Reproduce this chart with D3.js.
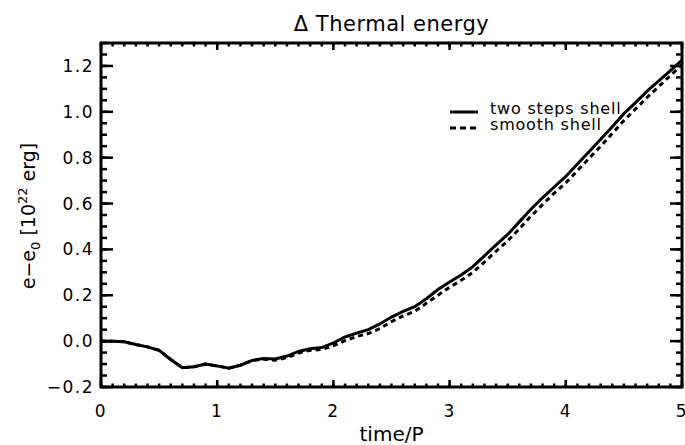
<!DOCTYPE html>
<html lang="en">
<head>
<meta charset="utf-8">
<script src="https://d3js.org/d3.v7.min.js"></script>
<style>
  html, body { margin: 0; padding: 0; background: #fff; }
  body { font-family: "DejaVu Sans", sans-serif; }
  .tick-label { font-size: 17px; letter-spacing: 1.5px; fill: #000; }
</style>
</head>
<body>
<script>
// values
var timeP = [0.0, 0.1, 0.2, 0.3, 0.4, 0.5, 0.6, 0.7, 0.8, 0.9,
             1.0, 1.1, 1.2, 1.3, 1.4, 1.5, 1.6, 1.7, 1.8, 1.9,
             2.0, 2.1, 2.2, 2.3, 2.4, 2.5, 2.6, 2.7, 2.8, 2.9,
             3.0, 3.1, 3.2, 3.3, 3.4, 3.5, 3.6, 3.7, 3.8, 3.9,
             4.0, 4.1, 4.2, 4.3, 4.4, 4.5, 4.6, 4.7, 4.8, 4.9, 5.0];
var twoSteps = [0.000, 0.000, -0.003, -0.015, -0.025, -0.040, -0.080, -0.116, -0.112, -0.100,
                -0.108, -0.118, -0.105, -0.084, -0.076, -0.078, -0.065, -0.045, -0.033, -0.028,
                -0.008, 0.018, 0.035, 0.050, 0.075, 0.105, 0.130, 0.150, 0.185, 0.225,
                0.258, 0.288, 0.325, 0.372, 0.420, 0.465, 0.520, 0.575, 0.625, 0.672,
                0.718, 0.772, 0.826, 0.880, 0.935, 0.992, 1.040, 1.090, 1.135, 1.180, 1.225];
var smooth = [0.000, 0.000, -0.003, -0.015, -0.025, -0.040, -0.080, -0.116, -0.112, -0.100,
              -0.108, -0.118, -0.105, -0.085, -0.079, -0.083, -0.072, -0.052, -0.040, -0.036,
              -0.020, 0.002, 0.020, 0.033, 0.055, 0.085, 0.110, 0.130, 0.165, 0.200,
              0.235, 0.265, 0.300, 0.345, 0.392, 0.437, 0.490, 0.545, 0.596, 0.645,
              0.690, 0.743, 0.797, 0.850, 0.905, 0.962, 1.012, 1.063, 1.110, 1.158, 1.205];
var xTicks = [0, 1, 2, 3, 4, 5];
var yTicks = [-0.2, 0.0, 0.2, 0.4, 0.6, 0.8, 1.0, 1.2];
var seriesNames = ["two steps shell", "smooth shell"];

var width = 685, height = 445;
var margin = {top: 43, right: 3, bottom: 58, left: 101};
var plotW = width - margin.left - margin.right,
    plotH = height - margin.top - margin.bottom;

var x = d3.scaleLinear().domain([0, 5]).range([0, plotW]);
var y = d3.scaleLinear().domain([-0.2, 1.3]).range([plotH, 0]);

var svg = d3.select("body").append("svg")
    .attr("width", width)
    .attr("height", height);

var g = svg.append("g")
    .attr("transform", "translate(" + margin.left + "," + margin.top + ")");

// minor / major ticks pointing inward on all four sides (IDL style)
var xMinor = d3.range(0, 5.0001, 0.1);
var yMinor = d3.range(-0.2, 1.3001, 0.05);

function tickLines(vals, len, isX, side) {
  g.append("g").selectAll("line")
    .data(vals)
    .enter().append("line")
    .attr("stroke", "#000")
    .attr("stroke-width", 2.5)
    .attr("x1", function(d) { return isX ? x(d) : (side == 0 ? 0 : plotW); })
    .attr("x2", function(d) { return isX ? x(d) : (side == 0 ? len : plotW - len); })
    .attr("y1", function(d) { return isX ? (side == 0 ? plotH : 0) : y(d); })
    .attr("y2", function(d) { return isX ? (side == 0 ? plotH - len : len) : y(d); });
}
tickLines(xMinor, 3.5, true, 0);
tickLines(xMinor, 3.5, true, 1);
tickLines(xTicks, 7, true, 0);
tickLines(xTicks, 7, true, 1);
tickLines(yMinor, 6, false, 0);
tickLines(yMinor, 6, false, 1);
tickLines(yTicks, 12, false, 0);
tickLines(yTicks, 12, false, 1);

// frame
g.append("rect")
    .attr("width", plotW)
    .attr("height", plotH)
    .attr("fill", "none")
    .attr("stroke", "#000")
    .attr("stroke-width", 3);

// tick labels
g.append("g").selectAll("text")
    .data(xTicks)
    .enter().append("text")
    .attr("class", "tick-label")
    .attr("x", function(d) { return x(d); })
    .attr("y", plotH + 30)
    .attr("text-anchor", "middle")
    .text(function(d) { return d; });

g.append("g").selectAll("text")
    .data(yTicks)
    .enter().append("text")
    .attr("class", "tick-label")
    .attr("x", -7)
    .attr("y", function(d) { return y(d) + 6; })
    .attr("text-anchor", "end")
    .text(function(d) { return d < 0 ? "\u2212" + Math.abs(d).toFixed(1) : d.toFixed(1); });

// curves
var line = d3.line()
    .x(function(d) { return x(d[0]); })
    .y(function(d) { return y(d[1]); });

g.append("path")
    .datum(timeP.map(function(t, i) { return [t, smooth[i]]; }))
    .attr("d", line)
    .attr("fill", "none")
    .attr("stroke", "#000")
    .attr("stroke-width", 3)
    .attr("stroke-dasharray", "5,4");

g.append("path")
    .datum(timeP.map(function(t, i) { return [t, twoSteps[i]]; }))
    .attr("d", line)
    .attr("fill", "none")
    .attr("stroke", "#000")
    .attr("stroke-width", 3);

// legend
var legend = svg.append("g").attr("transform", "translate(450,112)");
seriesNames.forEach(function(name, i) {
  legend.append("line")
    .attr("x1", 0).attr("x2", 28)
    .attr("y1", i * 16).attr("y2", i * 16)
    .attr("stroke", "#000")
    .attr("stroke-width", 3)
    .attr("stroke-dasharray", i == 0 ? null : "6,4");
  legend.append("text")
    .attr("x", 40)
    .attr("y", i * 16 + 2)
    .attr("font-size", "16px")
    .attr("letter-spacing", "0.8px")
    .text(name);
});

// titles
svg.append("text")
    .attr("x", margin.left + plotW / 2)
    .attr("y", 31)
    .attr("text-anchor", "middle")
    .attr("font-size", "21px")
    .attr("letter-spacing", "0.5px")
    .text("\u0394 Thermal energy");

svg.append("text")
    .attr("x", margin.left + plotW / 2)
    .attr("y", 441)
    .attr("text-anchor", "middle")
    .attr("font-size", "20px")
    .text("time/P");

var yl = svg.append("text")
    .attr("transform", "translate(35,216) rotate(-90)")
    .attr("text-anchor", "middle")
    .attr("font-size", "19px");
yl.append("tspan").text("e\u2212e");
yl.append("tspan").attr("font-size", "13px").attr("dy", 5).text("0");
yl.append("tspan").attr("dy", -5).text(" [10");
yl.append("tspan").attr("font-size", "13px").attr("dy", -8).text("22");
yl.append("tspan").attr("dy", 8).text(" erg]");
</script>
</body>
</html>
